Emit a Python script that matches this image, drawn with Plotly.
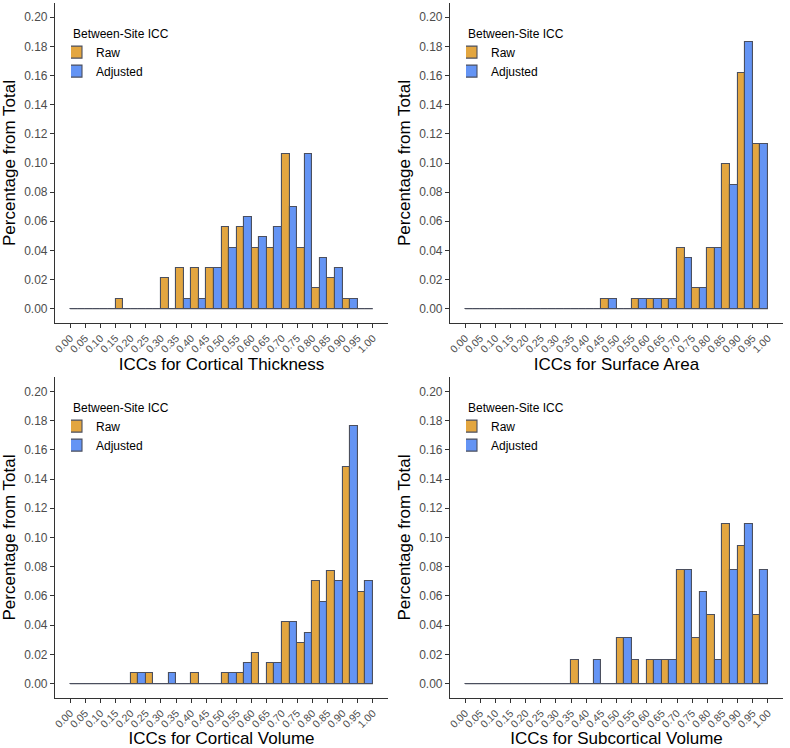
import plotly.graph_objects as go

# bin starts 0.00 .. 0.95, width 0.05
bin_centers = [round(0.025 + 0.05 * i, 3) for i in range(20)]
tick_vals = [round(0.05 * i, 2) for i in range(21)]
tick_text = ["%.2f" % v for v in tick_vals]

# cortical thickness (proportion of 142 ICCs)
thick_raw = [0, 0, 0, 0.007, 0, 0, 0.021, 0.028, 0.028, 0.028,
             0.056, 0.056, 0.042, 0.042, 0.106, 0.042, 0.014, 0.021, 0.007, 0]
thick_adj = [0, 0, 0, 0, 0, 0, 0, 0.007, 0.007, 0.028,
             0.042, 0.063, 0.049, 0.056, 0.070, 0.106, 0.035, 0.028, 0.007, 0]

# surface area
area_raw = [0, 0, 0, 0, 0, 0, 0, 0, 0, 0.007,
            0, 0.007, 0.007, 0.007, 0.042, 0.014, 0.042, 0.099, 0.162, 0.113]
area_adj = [0, 0, 0, 0, 0, 0, 0, 0, 0, 0.007,
            0, 0.007, 0.007, 0.007, 0.035, 0.014, 0.042, 0.085, 0.183, 0.113]

# cortical volume
vol_raw = [0, 0, 0, 0, 0.007, 0.007, 0, 0, 0.007, 0,
           0.007, 0.007, 0.021, 0.014, 0.042, 0.028, 0.070, 0.077, 0.148, 0.063]
vol_adj = [0, 0, 0, 0, 0.007, 0, 0.007, 0, 0, 0,
           0.007, 0.014, 0, 0.014, 0.042, 0.035, 0.056, 0.070, 0.176, 0.070]

# subcortical volume (proportion of 64)
sub_raw = [0, 0, 0, 0, 0, 0, 0, 0.016, 0, 0,
           0.031, 0.016, 0.016, 0.016, 0.078, 0.031, 0.047, 0.109, 0.094, 0.047]
sub_adj = [0, 0, 0, 0, 0, 0, 0, 0, 0.016, 0,
           0.031, 0, 0.016, 0.016, 0.078, 0.063, 0.016, 0.078, 0.109, 0.078]

panels = [
    ("ICCs for Cortical Thickness", thick_raw, thick_adj),
    ("ICCs for Surface Area", area_raw, area_adj),
    ("ICCs for Cortical Volume", vol_raw, vol_adj),
    ("ICCs for Subcortical Volume", sub_raw, sub_adj),
]

RAW_COL = "#E3A640"
ADJ_COL = "#6494F4"
EDGE = "#4B4F5E"
W, H = 790, 748

# panel boxes in pixels: (left, right, top, bottom)
boxes = [(55, 388, 3, 323), (450, 783, 3, 323),
         (55, 388, 377, 698), (450, 783, 377, 698)]

fig = go.Figure()
layout = dict(width=W, height=H, margin=dict(l=0, r=0, t=0, b=0),
              plot_bgcolor="white", paper_bgcolor="white",
              barmode="group", bargap=0, bargroupgap=0,
              font=dict(family="Liberation Sans, Arial", color="#4D4D4D"))

for k, (title, raw, adj) in enumerate(panels):
    n = "" if k == 0 else str(k + 1)
    xa, ya = "x" + n, "y" + n
    lg = "legend" + n
    l, r, t, b = boxes[k]
    for name, vals, col in [("Raw", raw, RAW_COL), ("Adjusted", adj, ADJ_COL)]:
        fig.add_trace(go.Bar(x=bin_centers, y=vals, name=name, xaxis=xa, yaxis=ya,
                             marker=dict(color=col, line=dict(color=EDGE, width=1.1)),
                             legend=lg, offsetgroup=name))
    # baseline for empty bins
    fig.add_shape(type="line", xref=xa, yref=ya, x0=tick_vals[0], x1=tick_vals[-1],
                  y0=0, y1=0, line=dict(color=EDGE, width=1.1), layer="below")
    layout["xaxis" + n] = dict(
        domain=[l / W, r / W], anchor=ya, range=[-0.05, 1.05], automargin=False,
        tickmode="array", tickvals=tick_vals, ticktext=tick_text, tickangle=-45,
        tickfont=dict(size=10.5, color="#4D4D4D"), ticks="outside", ticklen=4,
        tickcolor="#333333", showline=True, linecolor="#333333", linewidth=1.2,
        showgrid=False, zeroline=False,
        title=dict(text=title, font=dict(size=17, color="black"), standoff=4))
    layout["yaxis" + n] = dict(
        domain=[1 - b / H, 1 - t / H], anchor=xa, range=[-0.0098, 0.2098],
        automargin=False,
        tickmode="array", tickvals=[0.02 * i for i in range(11)],
        ticktext=["%.2f" % (0.02 * i) for i in range(11)],
        tickfont=dict(size=12, color="#4D4D4D"), ticks="outside", ticklen=4,
        tickcolor="#333333", showline=True, linecolor="#333333", linewidth=1.2,
        showgrid=False, zeroline=False,
        title=dict(text="Percentage from Total", font=dict(size=17, color="black"),
                   standoff=4))
    layout[lg] = dict(
        x=(l + 16) / W, y=1 - (t + 19) / H, xanchor="left", yanchor="top",
        title=dict(text="Between-Site ICC", font=dict(size=12, color="black")),
        font=dict(size=12, color="black"), bgcolor="rgba(0,0,0,0)",
        tracegroupgap=0, indentation=-15)

fig.update_layout(**layout)
# drop the browser's default body margin so the figure sits at the page corner
fig.write_html("out.html", config={"displayModeBar": False},
               post_script="document.body.style.margin='0';")
